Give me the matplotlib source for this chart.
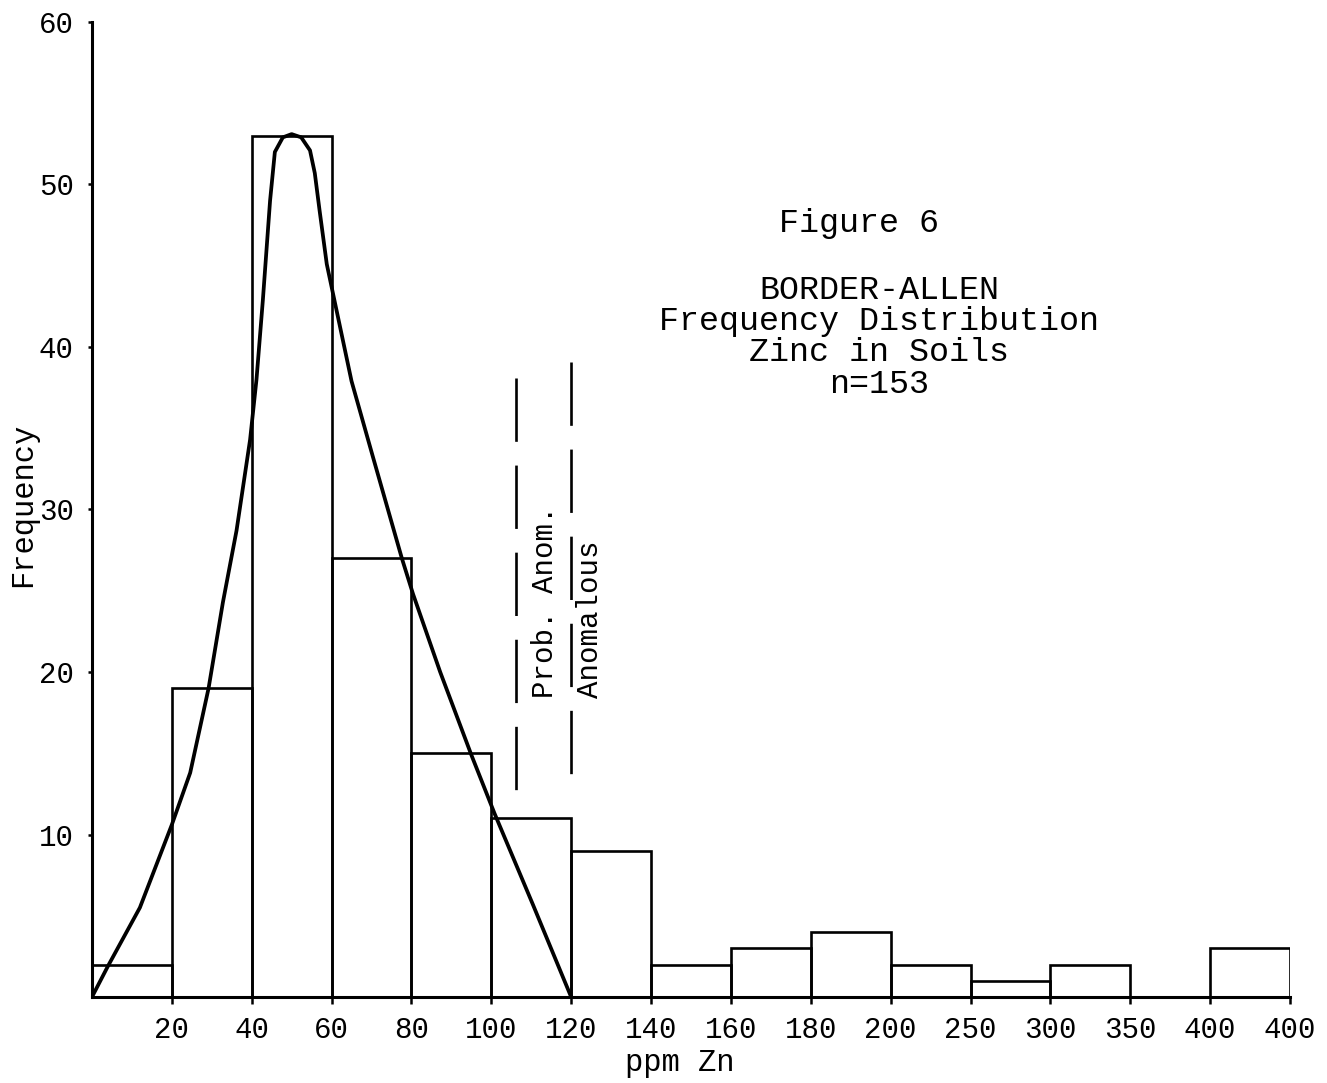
import matplotlib.pyplot as plt

plt.rcParams['font.family'] = ['Liberation Mono', 'DejaVu Sans Mono']

# bins (equal width on the chart, labelled by their upper edge)
bin_labels = ['20', '40', '60', '80', '100', '120', '140', '160', '180', '200',
              '250', '300', '350', '400', '400']
freq = [2, 19, 53, 27, 15, 11, 9, 2, 3, 4, 2, 1, 2, 0, 3]

# hand drawn curve (x in bin units, y frequency)
curve_x = [0.0, 0.20, 0.60, 1.0, 1.23, 1.46, 1.64, 1.81, 1.98, 2.06, 2.14,
           2.23, 2.29, 2.39, 2.5, 2.62, 2.73, 2.79, 2.85, 2.94, 3.25, 3.52,
           3.88, 4.02, 4.36, 4.75, 5.04, 5.52, 6.0]
curve_y = [0.0, 1.9, 5.5, 10.6, 13.8, 19.0, 24.3, 28.7, 34.3, 38.0, 42.9,
           49.0, 52.0, 52.9, 53.1, 52.9, 52.1, 50.7, 48.4, 45.1, 37.9, 33.2,
           27.0, 24.8, 20.0, 14.9, 11.3, 5.7, 0.0]

# threshold lines (bin units): x, top, bottom
prob_anom = (5.31, 38.1, 12.3)
anom = (6.0, 39.1, 12.3)

fig = plt.figure(figsize=(13.27, 10.83), dpi=100)
ax = fig.add_axes([0.0693, 0.0794, 0.9028, 0.9003])

ax.bar(range(len(freq)), freq, width=1, align='edge', fill=False,
       edgecolor='black', linewidth=1.9)
ax.plot(curve_x, curve_y, color='black', linewidth=2.7)

# drawn top-down so the dashes start at the top like the original
for x, top, bot in [prob_anom, anom]:
    ax.plot([x, x], [top, bot], color='black', linewidth=1.9,
            linestyle=(0, (24, 9)))
ax.text(5.67, 18.4, 'Prob. Anom.', rotation=90, ha='center', va='bottom',
        fontsize=21)
ax.text(6.23, 18.4, 'Anomalous', rotation=90, ha='center', va='bottom',
        fontsize=21)

ax.text(9.6, 47.6, 'Figure 6', ha='center', va='center', fontsize=24)
ax.text(9.86, 40.6, 'BORDER-ALLEN\nFrequency Distribution\nZinc in Soils\nn=153',
        ha='center', va='center', multialignment='center', fontsize=24,
        linespacing=1.02)

ax.set_xlim(0, 15)
ax.set_ylim(0, 60)
ax.set_xticks(range(1, 16))
ax.set_xticklabels(bin_labels)
ax.set_yticks([10, 20, 30, 40, 50, 60])
ax.tick_params(axis='x', length=5, width=1.8, labelsize=21, pad=9)
ax.tick_params(axis='y', length=3, width=1.8, labelsize=21, pad=10)

for s in ['top', 'right']:
    ax.spines[s].set_visible(False)
for s in ['left', 'bottom']:
    ax.spines[s].set_linewidth(2.2)

ax.set_xlabel('ppm Zn', fontsize=22)
ax.xaxis.set_label_coords(0.491, -0.052)
ax.set_ylabel('Frequency', fontsize=22)
ax.yaxis.set_label_coords(-0.045, 0.505)

plt.savefig('out.png', dpi=100)
